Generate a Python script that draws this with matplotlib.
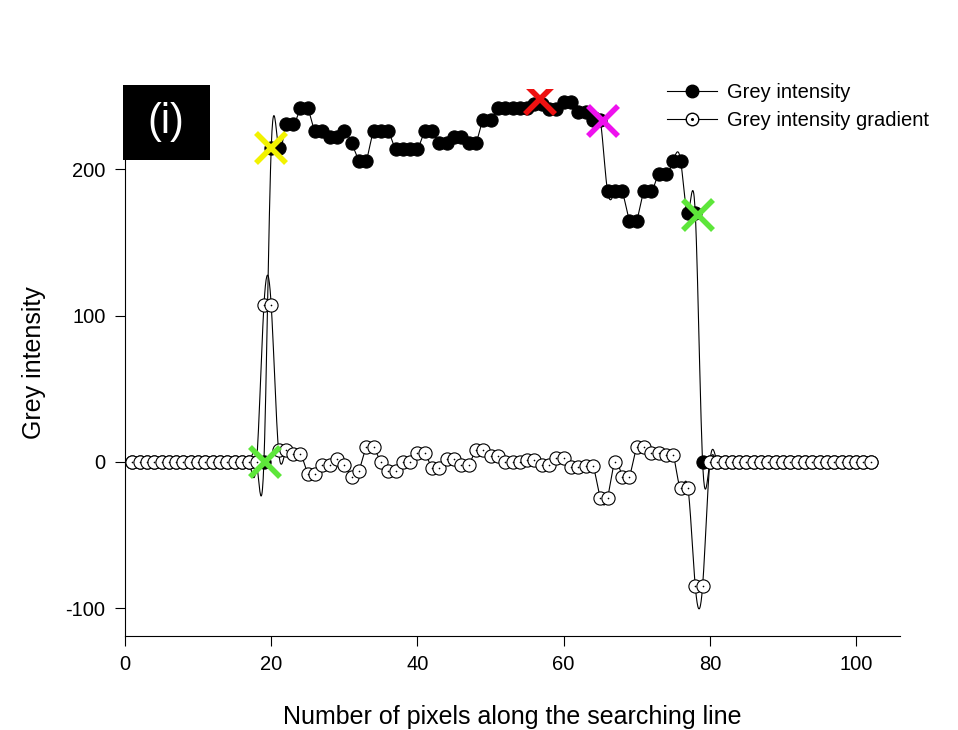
import numpy as np
import matplotlib.pyplot as plt
from matplotlib.lines import Line2D
from matplotlib.patches import Rectangle
from matplotlib.legend_handler import HandlerTuple

plt.rcParams['font.family'] = ['Liberation Sans', 'DejaVu Sans']
plt.rcParams['axes.unicode_minus'] = False

# pixel index along the searching line
pixel_x = list(range(1, 103))

# grey intensity (black dots)
grey = [0] * 19 + [215, 215, 231, 231, 242, 242, 226, 226, 222, 222, 226, 218,
                   206, 206, 226, 226, 226, 214, 214, 214, 214, 226, 226, 218,
                   218, 222, 222, 218, 218, 234, 234, 242, 242, 242, 242, 242,
                   245, 245, 241, 241, 246, 246, 239, 239, 234, 234, 185, 185,
                   185, 165, 165, 185, 185, 197, 197, 206, 206, 170, 170] + [0] * 24

# grey intensity gradient (open circles)
gradient = [0] * 18 + [107, 107, 8, 8, 5.5, 5.5, -8, -8, -2, -2, 2, -2, -10, -6,
                       10, 10, 0, -6, -6, 0, 0, 6, 6, -4, -4, 2, 2, -2, -2, 8, 8,
                       4, 4, 0, 0, 0, 1.5, 1.5, -2, -2, 2.5, 2.5, -3.5, -3.5,
                       -2.5, -2.5, -24.5, -24.5, 0, -10, -10, 10, 10, 6, 6, 4.5,
                       4.5, -18, -18, -85, -85] + [0] * 23

# coloured cross markers
cross_x = [20, 19.2, 56.8, 65.4, 78.4]
cross_y = [215, 0, 248, 233, 169]
cross_col = ['#f2f200', '#5de63a', '#ee1111', '#ee11ee', '#5de63a']


def spline(x, y, n=20):
    # natural cubic spline, used only to draw the connecting line (SigmaPlot style)
    x = np.asarray(x, float)
    y = np.asarray(y, float)
    N = len(x)
    h = np.diff(x)
    A = np.zeros((N, N))
    b = np.zeros(N)
    A[0, 0] = A[-1, -1] = 1
    for i in range(1, N - 1):
        A[i, i - 1] = h[i - 1]
        A[i, i] = 2 * (h[i - 1] + h[i])
        A[i, i + 1] = h[i]
        b[i] = 6 * ((y[i + 1] - y[i]) / h[i] - (y[i] - y[i - 1]) / h[i - 1])
    M = np.linalg.solve(A, b)
    xs = np.linspace(x[0], x[-1], (N - 1) * n + 1)
    k = np.clip(np.searchsorted(x, xs) - 1, 0, N - 2)
    hk = h[k]
    t0 = x[k + 1] - xs
    t1 = xs - x[k]
    ys = (M[k] * t0 ** 3 + M[k + 1] * t1 ** 3) / (6 * hk) \
        + (y[k] / hk - M[k] * hk / 6) * t0 + (y[k + 1] / hk - M[k + 1] * hk / 6) * t1
    return xs, ys


fig = plt.figure(figsize=(9.58, 7.30), dpi=100)
ax = fig.add_axes([125 / 958, 1 - 636 / 730, 775 / 958, (636 - 89) / 730])

ms = 9.5
xs, ys = spline(pixel_x, grey)
ax.plot(xs, ys, color='black', lw=0.8, zorder=2)
ax.plot(pixel_x, grey, ls='none', marker='o', ms=ms, mfc='black', mec='black',
        mew=0.8, zorder=3)

xs, ys = spline(pixel_x, gradient)
ax.plot(xs, ys, color='black', lw=0.8, zorder=4)
ax.plot(pixel_x, gradient, ls='none', marker='o', ms=ms, mfc='white', mec='black',
        mew=0.8, zorder=5)
ax.plot(pixel_x, gradient, ls='none', marker='o', ms=1.2, mfc='black', mec='black',
        mew=0, zorder=6)

for cx, cy, cc in zip(cross_x, cross_y, cross_col):
    ax.plot(cx, cy, marker='x', ms=21, mew=4, color=cc, zorder=7)

ax.set_xlim(0, 106)
ax.set_ylim(-119, 255)
ax.set_xticks([0, 20, 40, 60, 80, 100])
ax.set_yticks([-100, 0, 100, 200])
ax.spines['top'].set_visible(False)
ax.spines['right'].set_visible(False)
ax.spines['left'].set_linewidth(0.8)
ax.spines['bottom'].set_linewidth(0.8)
ax.tick_params(direction='out', length=7, width=0.8, labelsize=14.5, pad=7)
ax.set_xlabel('Number of pixels along the searching line', fontsize=18, labelpad=22)
ax.set_ylabel('Grey intensity', fontsize=18, labelpad=14)

h1 = Line2D([], [], color='black', lw=0.8, marker='o', ms=9, mfc='black', mec='black')
h2a = Line2D([], [], color='black', lw=0.8, marker='o', ms=9, mfc='white', mec='black')
h2b = Line2D([], [], ls='none', marker='o', ms=1.2, mfc='black', mec='black')
ax.legend([h1, (h2a, h2b)], ['Grey intensity', 'Grey intensity gradient'],
          handler_map={tuple: HandlerTuple(ndivide=1)},
          loc='upper left', bbox_to_anchor=(667 / 958, 1 - 83 / 730),
          bbox_transform=fig.transFigure, frameon=False, fontsize=14.5,
          handlelength=2.5, handletextpad=0.5, borderpad=0, borderaxespad=0,
          labelspacing=0.45)

fig.add_artist(Rectangle((123 / 958, 1 - 160 / 730), 87 / 958, 75 / 730,
                         transform=fig.transFigure, facecolor='black',
                         edgecolor='none', zorder=5))
fig.text(166 / 958, 1 - 122 / 730, '(i)', color='white', fontsize=30,
         ha='center', va='center', zorder=6)

fig.savefig('out.png', dpi=100)
